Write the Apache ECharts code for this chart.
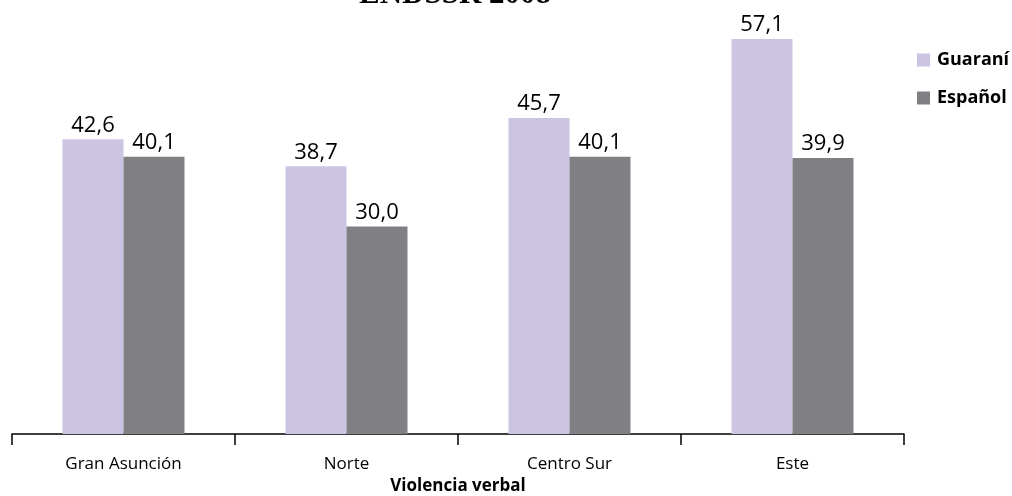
<!DOCTYPE html>
<html>
<head>
<meta charset="utf-8">
<script src="https://cdn.jsdelivr.net/npm/echarts@6/dist/echarts.min.js"></script>
<style>
  html, body { margin: 0; padding: 0; background: #fff; }
  #chart { width: 1012px; height: 496px; }
</style>
</head>
<body>
<div id="chart"></div>
<script>
// Regiones y porcentajes de violencia verbal por idioma
const regiones = ['Gran Asunción', 'Norte', 'Centro Sur', 'Este'];
const guarani = [42.6, 38.7, 45.7, 57.1];
const espanol = [40.1, 30.0, 40.1, 39.9];
const nombresSeries = ['Guaraní', 'Español'];
const titulo = 'ENDSSR 2008';

const chart = echarts.init(document.getElementById('chart'), null, { renderer: 'canvas' });
const fuente = '"Open Sans", "Liberation Sans", sans-serif';
const etiqueta = {
  show: true,
  position: 'top',
  distance: 3,
  color: '#000',
  fontSize: 22,
  fontFamily: fuente,
  formatter: p => p.value.toFixed(1).replace('.', ',')
};

chart.setOption({
  animation: false,
  // El título queda recortado en el borde superior
  graphic: [{
    type: 'text',
    x: 455,
    y: 10,
    silent: true,
    style: {
      text: titulo,
      font: 'bold 31px "Liberation Serif", "DejaVu Serif", serif',
      fill: '#000',
      textAlign: 'center',
      textVerticalAlign: 'bottom'
    }
  }],
  legend: {
    orient: 'vertical',
    left: 912,
    top: 46,
    itemWidth: 13,
    itemHeight: 13,
    itemGap: 20,
    icon: 'rect',
    data: nombresSeries,
    textStyle: { fontFamily: fuente, fontWeight: 'bold', fontSize: 18, color: '#000', padding: [0, 0, 0, 2] }
  },
  grid: { left: 12, right: 108, top: 19, bottom: 62, outerBoundsMode: 'none' },
  xAxis: {
    type: 'category',
    data: regiones,
    name: 'Violencia verbal',
    nameLocation: 'middle',
    nameGap: 43,
    nameTextStyle: { fontFamily: fuente, fontWeight: 'bold', fontSize: 17, color: '#000' },
    axisLine: { lineStyle: { color: '#000', width: 1.5 } },
    axisTick: { show: true, inside: false, length: 11, lineStyle: { color: '#000', width: 1.5 } },
    axisLabel: { fontFamily: fuente, fontSize: 17, color: '#000', margin: 22 }
  },
  yAxis: {
    type: 'value',
    min: 0,
    max: 60,
    show: false,
    splitLine: { show: false }
  },
  series: [
    {
      name: nombresSeries[0],
      type: 'bar',
      data: guarani,
      barWidth: 61,
      barGap: '0%',
      itemStyle: { color: '#CDC4E4' },
      label: etiqueta
    },
    {
      name: nombresSeries[1],
      type: 'bar',
      data: espanol,
      barWidth: 61,
      barGap: '0%',
      itemStyle: { color: '#808084' },
      label: etiqueta
    }
  ]
});
</script>
</body>
</html>
